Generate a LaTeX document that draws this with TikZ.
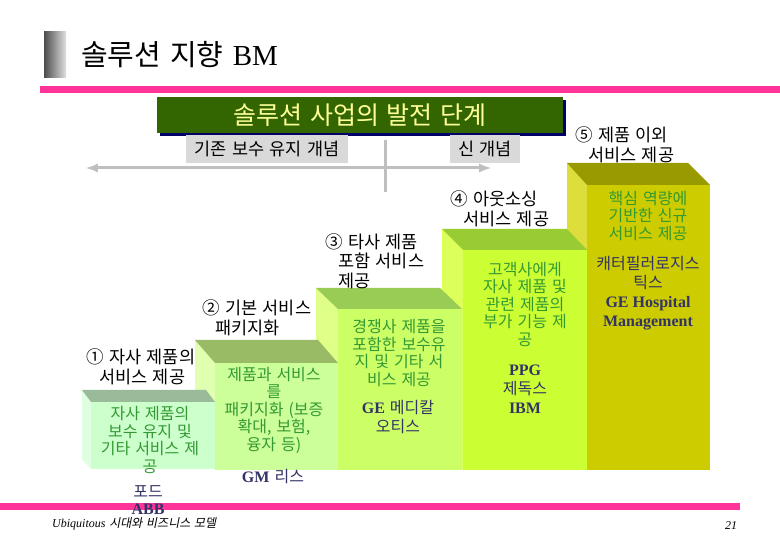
\documentclass[tikz,border=0pt]{standalone}
\usepackage{fontspec}
\usepackage{tikz}
\usetikzlibrary{arrows}
\setmainfont[WordSpace=1.4]{Noto Sans CJK KR}
\newfontfamily\tms{Liberation Serif}
\newfontfamily\krit[FakeSlant=0.2,WordSpace=1.4]{Noto Sans CJK KR}
\newcommand{\hang}{\hspace*{13pt}}

\definecolor{slidepink}{RGB}{255,51,153}
\definecolor{bandgreen}{RGB}{51,102,0}
\definecolor{bandshadow}{RGB}{0,0,102}
\definecolor{bandtext}{RGB}{255,255,153}
\definecolor{boxgray}{RGB}{217,217,217}
\definecolor{axisgray}{RGB}{191,191,191}
\definecolor{stepgreen}{RGB}{51,153,51}
\definecolor{firmnavy}{RGB}{51,51,102}
% faces of the steps: front, top, side
\definecolor{onefront}{RGB}{204,255,204}
\definecolor{onetop}{RGB}{153,187,153}
\definecolor{oneside}{RGB}{224,255,224}
\definecolor{twofront}{RGB}{204,255,153}
\definecolor{twotop}{RGB}{153,187,102}
\definecolor{twoside}{RGB}{224,255,176}
\definecolor{threefront}{RGB}{204,255,102}
\definecolor{threetop}{RGB}{153,204,85}
\definecolor{threeside}{RGB}{224,255,136}
\definecolor{fourfront}{RGB}{204,255,51}
\definecolor{fourtop}{RGB}{153,204,51}
\definecolor{fourside}{RGB}{221,255,90}
\definecolor{fivefront}{RGB}{204,204,0}
\definecolor{fivetop}{RGB}{153,153,0}
\definecolor{fiveside}{RGB}{221,221,60}

\begin{document}
\begin{tikzpicture}[x=1pt, y=-1pt,
  steplabel/.style={anchor=west, align=left, inner sep=0pt, font=\fontsize{17.5}{19.5}\selectfont},
  stepdesc/.style={align=center, inner sep=0pt, text=stepgreen, font=\fontsize{16}{17.5}\selectfont},
  firm/.style={align=center, inner sep=0pt, text=firmnavy, font=\fontsize{16}{19}\selectfont},
  conceptbox/.style={fill=boxgray, inner sep=0pt, minimum height=28pt, font=\fontsize{17.5}{19}\selectfont},
  axis/.style={axisgray, line width=3pt}]

\useasboundingbox (0,0) rectangle (780,540);

% header
\shade[left color=black!70, right color=black!12] (44,32) rectangle (66,78);
\node[anchor=west, inner sep=0pt, font=\fontsize{29}{31}\selectfont] (slidetitle) at (81,55) {솔루션 지향 {\tms BM}};
\draw[slidepink, line width=7pt] (40,89.5) -- (780,89.5);
\draw[slidepink, line width=7pt] (0,506.5) -- (740,506.5);

\fill[bandshadow] (160,100) rectangle (566,136);
\fill[bandgreen] (157,97) rectangle (563,133);
\node[text=bandtext, font=\fontsize{25}{27}\selectfont] (phasetitle) at (360,115) {솔루션 사업의 발전 단계};

% old / new concept axis
\coordinate (oldend) at (86,168);
\coordinate (newend) at (491,168);
\coordinate (divtop) at (385,140);
\coordinate (divbot) at (385,192);
\draw[axis, <->, >=latex] (oldend) -- (newend);
\draw[axis] (divtop) -- (divbot);
\node[conceptbox, minimum width=162pt] (oldconcept) at (267,149) {기존 보수 유지 개념};
\node[conceptbox, minimum width=70pt] (newconcept) at (485,149) {신 개념};

% steps, back to front
\fill[fiveside] (567,163) -- (587,185) -- (587,470) -- (567,448) -- cycle;
\fill[fivetop] (567,163) -- (688,163) -- (710,185) -- (587,185) -- cycle;
\fill[fivefront] (587,185) rectangle (710,470);

\fill[fourside] (442,229) -- (463,250) -- (463,470) -- (442,449) -- cycle;
\fill[fourtop] (442,229) -- (567,229) -- (587,250) -- (463,250) -- cycle;
\fill[fourfront] (463,250) rectangle (587,470);

\fill[threeside] (316,288) -- (338,309) -- (338,470) -- (316,449) -- cycle;
\fill[threetop] (316,288) -- (440,288) -- (462,309) -- (338,309) -- cycle;
\fill[threefront] (338,309) rectangle (462,470);

\fill[twoside] (195,340) -- (215,363) -- (215,470) -- (195,447) -- cycle;
\fill[twotop] (195,340) -- (318,340) -- (338,363) -- (215,363) -- cycle;
\fill[twofront] (215,363) rectangle (338,470);

\fill[oneside] (82,390) -- (91,402) -- (91,469) -- (82,459) -- cycle;
\fill[onetop] (82,390) -- (206,390) -- (215,402) -- (91,402) -- cycle;
\fill[onefront] (91,402) rectangle (215,469);

% stage labels
\node[steplabel] (stageone) at (86,367) {① 자사 제품의\\\hang 서비스 제공};
\node[steplabel] (stagetwo) at (202,318) {② 기본 서비스\\\hang 패키지화};
\node[steplabel] (stagethree) at (325,261) {③ 타사 제품\\\hang 포함 서비스\\\hang 제공};
\node[steplabel] (stagefour) at (450,209) {④ 아웃소싱\\\hang 서비스 제공};
\node[steplabel] (stagefive) at (575,145) {⑤ 제품 이외\\\hang 서비스 제공};

% what each step offers
\node[stepdesc] (descone) at (150,440) {자사 제품의\\보수 유지 및\\기타 서비스 제\\공};
\node[stepdesc] (desctwo) at (274,410) {제품과 서비스\\를\\패키지화 (보증\\확대, 보험,\\융자 등)};
\node[stepdesc] (descthree) at (399,353) {경쟁사 제품을\\포함한 보수유\\지 및 기타 서\\비스 제공};
\node[stepdesc] (descfour) at (525,304) {고객사에게\\자사 제품 및\\관련 제품의\\부가 기능 제\\공};
\node[stepdesc] (descfive) at (648,216) {핵심 역량에\\기반한 신규\\서비스 제공};

% example firms
\node[firm, font=\fontsize{16}{17}\selectfont] (fordabb) at (148,500) {포드\\{\tms\bfseries ABB}};
\node[firm] (gmlease) at (273,477) {{\tms\bfseries GM} 리스};
\node[firm] (gemedical) at (398,417) {{\tms\bfseries GE} 메디칼\\오티스};
\node[firm] (ppgibm) at (525,389) {{\tms\bfseries PPG}\\제독스\\{\tms\bfseries IBM}};
\node[firm] (gehospital) at (648,293) {캐터필러로지스\\틱스\\{\tms\bfseries GE Hospital}\\{\tms\bfseries Management}};

% footer
\node[anchor=west, inner sep=0pt, font=\fontsize{12}{14}\selectfont] (footer) at (52,524) {{\tms\itshape Ubiquitous} {\krit 시대와 비즈니스 모델}};
\node[anchor=west, inner sep=0pt, font=\tms\itshape\fontsize{12}{14}\selectfont] (pagenum) at (725,526) {21};

\end{tikzpicture}
\end{document}
